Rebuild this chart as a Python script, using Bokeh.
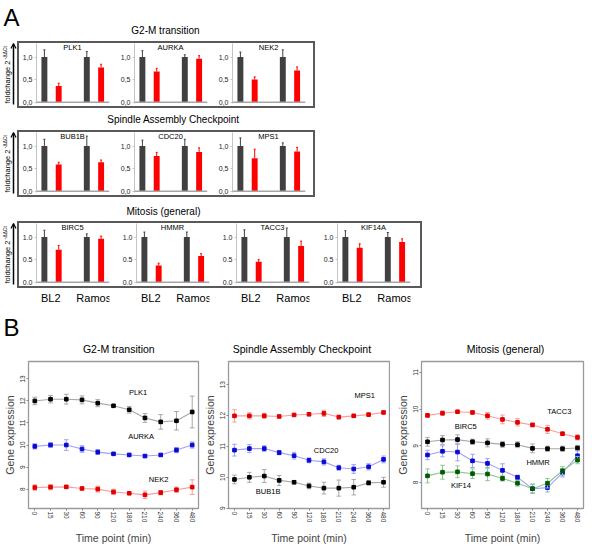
import math
from bokeh.plotting import figure
from bokeh.layouts import row, column
from bokeh.models import (Range1d, Span, FixedTicker, CustomJSTickFormatter,
                          PrintfTickFormatter, Arrow, OpenHead, Spacer)
from bokeh.embed import file_html
from bokeh.resources import INLINE
from bokeh.core.properties import value

# ---------------- Panel A data ----------------
cell_lines = ["BL2", "Ramos"]
conditions = ["control", "knockdown"]
titles_A = ["G2-M transition", "Spindle Assembly Checkpoint", "Mitosis (general)"]
genes_A1 = ["PLK1", "AURKA", "NEK2"]
genes_A2 = ["BUB1B", "CDC20", "MPS1"]
genes_A3 = ["BIRC5", "HMMR", "TACC3", "KIF14A"]
# fold change 2^-ddCt: BL2 control, BL2 knockdown, Ramos control, Ramos knockdown
fc_PLK1 = [1.0, 0.36, 1.0, 0.77]
err_PLK1 = [0.16, 0.06, 0.12, 0.07]
fc_AURKA = [1.0, 0.68, 1.0, 0.96]
err_AURKA = [0.14, 0.07, 0.05, 0.07]
fc_NEK2 = [1.0, 0.50, 1.0, 0.70]
err_NEK2 = [0.11, 0.06, 0.16, 0.08]
fc_BUB1B = [1.0, 0.59, 1.0, 0.64]
err_BUB1B = [0.15, 0.05, 0.22, 0.05]
fc_CDC20 = [1.0, 0.78, 1.0, 0.87]
err_CDC20 = [0.13, 0.08, 0.15, 0.09]
fc_MPS1 = [1.0, 0.73, 1.0, 0.88]
err_MPS1 = [0.18, 0.20, 0.07, 0.09]
fc_BIRC5 = [1.0, 0.72, 1.0, 0.96]
err_BIRC5 = [0.15, 0.09, 0.07, 0.06]
fc_HMMR = [1.0, 0.37, 1.0, 0.58]
err_HMMR = [0.11, 0.05, 0.11, 0.05]
fc_TACC3 = [1.0, 0.45, 1.0, 0.80]
err_TACC3 = [0.16, 0.05, 0.20, 0.11]
fc_KIF14A = [1.0, 0.76, 1.0, 0.89]
err_KIF14A = [0.14, 0.09, 0.10, 0.07]

# ---------------- Panel B data ----------------
time_points = ["0", "15", "30", "60", "90", "120", "180", "210", "240", "360", "480"]
titles_B = ["G2-M transition", "Spindle Assembly Checkpoint", "Mitosis (general)"]
expr_PLK1 = [12.0, 12.08, 12.08, 12.05, 11.9, 11.78, 11.6, 11.23, 11.05, 11.1, 11.5]
sd_PLK1 = [0.17, 0.17, 0.22, 0.18, 0.16, 0.05, 0.15, 0.2, 0.33, 0.42, 0.72]
expr_AURKA = [9.94, 10.0, 10.0, 9.82, 9.68, 9.6, 9.55, 9.5, 9.55, 9.77, 10.0]
sd_AURKA = [0.12, 0.1, 0.24, 0.15, 0.11, 0.05, 0.07, 0.07, 0.05, 0.12, 0.14]
expr_NEK2 = [8.07, 8.09, 8.1, 8.03, 8.0, 7.87, 7.81, 7.74, 7.84, 7.97, 8.09]
sd_NEK2 = [0.12, 0.12, 0.07, 0.05, 0.13, 0.12, 0.05, 0.17, 0.1, 0.12, 0.33]
expr_MPS1 = [11.99, 11.99, 11.99, 11.97, 12.02, 12.04, 12.07, 11.95, 11.99, 12.03, 12.1]
sd_MPS1 = [0.2, 0.1, 0.08, 0.03, 0.04, 0.04, 0.1, 0.06, 0.05, 0.04, 0.04]
expr_CDC20 = [10.88, 10.93, 10.93, 10.8, 10.7, 10.55, 10.5, 10.31, 10.27, 10.34, 10.58]
sd_CDC20 = [0.19, 0.13, 0.09, 0.07, 0.11, 0.08, 0.1, 0.08, 0.14, 0.1, 0.11]
expr_BUB1B = [9.93, 10.0, 10.04, 9.9, 9.84, 9.72, 9.65, 9.65, 9.68, 9.82, 9.84]
sd_BUB1B = [0.14, 0.16, 0.21, 0.16, 0.05, 0.09, 0.19, 0.26, 0.25, 0.07, 0.16]
expr_TACC3 = [9.83, 9.89, 9.93, 9.91, 9.82, 9.72, 9.64, 9.57, 9.45, 9.33, 9.23]
sd_TACC3 = [0.04, 0.06, 0.04, 0.04, 0.09, 0.12, 0.1, 0.05, 0.11, 0.05, 0.07]
expr_BIRC5 = [9.11, 9.16, 9.17, 9.11, 9.08, 9.04, 9.03, 8.93, 8.92, 8.92, 8.94]
sd_BIRC5 = [0.12, 0.12, 0.13, 0.07, 0.11, 0.08, 0.08, 0.12, 0.07, 0.07, 0.07]
expr_HMMR = [8.75, 8.85, 8.83, 8.59, 8.52, 8.33, 8.14, 7.83, 7.86, 8.26, 8.73]
sd_HMMR = [0.13, 0.15, 0.24, 0.18, 0.13, 0.18, 0.06, 0.11, 0.12, 0.11, 0.13]
expr_KIF14 = [8.18, 8.28, 8.29, 8.24, 8.23, 8.11, 7.98, 7.83, 7.98, 8.32, 8.61]
sd_KIF14 = [0.19, 0.19, 0.16, 0.13, 0.18, 0.07, 0.08, 0.13, 0.13, 0.11, 0.1]

FC = {"PLK1": fc_PLK1, "AURKA": fc_AURKA, "NEK2": fc_NEK2, "BUB1B": fc_BUB1B,
      "CDC20": fc_CDC20, "MPS1": fc_MPS1, "BIRC5": fc_BIRC5, "HMMR": fc_HMMR,
      "TACC3": fc_TACC3, "KIF14A": fc_KIF14A}
ERR = {"PLK1": err_PLK1, "AURKA": err_AURKA, "NEK2": err_NEK2, "BUB1B": err_BUB1B,
       "CDC20": err_CDC20, "MPS1": err_MPS1, "BIRC5": err_BIRC5, "HMMR": err_HMMR,
       "TACC3": err_TACC3, "KIF14A": err_KIF14A}

# ---------------- styling / layout ----------------
FONT = "Liberation Sans"
DARK = "#404040"
RED = "#ff0000"
EDGE = "#595959"


def no_grid(p):
    for g in p.grid:
        g.visible = False
    return p


def canvas(w, h):
    p = figure(width=w, height=h, x_range=Range1d(0, w), y_range=Range1d(h, 0),
               output_backend="svg", toolbar_location=None, min_border=0,
               x_axis_location=None, y_axis_location=None, outline_line_color=None)
    return no_grid(p)


def edge(w, h):
    return Spacer(width=w, height=h, styles={"background-color": EDGE})


def label(p, x, y, txt, size, align="left", angle=0.0, color="#000000"):
    p.text(x=[x], y=[y], text=[txt], text_font=value(FONT), text_font_size=f"{size}px",
           text_align=align, text_baseline="middle", angle=angle, text_color=color)


def ylab_strip(h):
    p = canvas(17, h)
    label(p, 7.0, h - 5, "foldchange 2", 7.5, "left", math.pi / 2)
    label(p, 4.5, h - 5 - 44, "-ΔΔCt", 5, "left", math.pi / 2)
    p.add_layout(Arrow(end=OpenHead(size=5, line_width=1.2, line_color="black"),
                       x_start=13, y_start=h - 4, x_end=13, y_end=2,
                       line_width=1.5, line_color="black"))
    return p


def bar_row(genes, widths, comma):
    subs, strips = [], []
    xs = [0.8 + gi * 4.3 + ci * 1.45 for gi in range(len(cell_lines)) for ci in range(len(conditions))]
    cols = [DARK if ci == 0 else RED for gi in range(len(cell_lines)) for ci in range(len(conditions))]
    centers = [0.8 + gi * 4.3 + 0.725 for gi in range(len(cell_lines))]
    for gene, w in zip(genes, widths):
        fc, er = FC[gene], ERR[gene]
        xr = Range1d(0, 7.4)
        p = figure(width=w, height=63, x_range=xr, y_range=Range1d(-0.03, 1.30),
                   output_backend="svg", toolbar_location=None, x_axis_location=None,
                   min_border_left=16, min_border_right=w - 90, min_border_top=0,
                   min_border_bottom=3, outline_line_color=None)
        no_grid(p)
        p.vbar(x=xs, top=fc, bottom=0, width=0.6, fill_color=cols, line_color=None)
        hi = [f + e for f, e in zip(fc, er)]
        p.segment(x0=xs, y0=fc, x1=xs, y1=hi, line_color=cols, line_width=1)
        p.segment(x0=[x - 0.1 for x in xs], y0=hi, x1=[x + 0.1 for x in xs], y1=hi,
                  line_color=cols, line_width=1)
        p.add_layout(Span(location=0, dimension="width", line_color="#a6a6a6", line_width=1.5))
        label(p, 3.65, 1.21, gene, 7.5, "center")
        ax = p.yaxis[0]
        ax.ticker = FixedTicker(ticks=[0, 0.5, 1.0])
        if comma:
            ax.formatter = CustomJSTickFormatter(code="return tick.toFixed(1).replace('.', ',');")
        else:
            ax.formatter = PrintfTickFormatter(format="%.1f")
        ax.axis_line_color = "#c4c4c4"
        ax.major_tick_line_color = "#c4c4c4"
        ax.major_tick_out = 2
        ax.major_tick_in = 0
        ax.minor_tick_line_color = None
        ax.major_label_text_font = FONT
        ax.major_label_text_font_size = "7px"
        ax.major_label_text_color = "#222222"
        ax.major_label_standoff = 2
        subs.append(p)

        s = figure(width=w, height=18, x_range=xr, y_range=Range1d(18, 0),
                   output_backend="svg", toolbar_location=None, x_axis_location=None,
                   y_axis_location=None, min_border_left=16, min_border_right=w - 90,
                   min_border_top=0, min_border_bottom=0, outline_line_color=None)
        no_grid(s)
        s.text(x=centers, y=[9.4] * len(centers), text=cell_lines, text_font=value(FONT),
               text_font_size="11px", text_align="center", text_baseline="middle")
        strips.append(s)
    W = sum(widths)
    box = column(edge(W + 4, 2), row(edge(2, 63), *subs, edge(2, 63)), edge(W + 4, 2))
    return box, strips


def line_fig(w, bl, br, yr, yticks, series, labs):
    xs = list(range(1, len(time_points) + 1))
    p = figure(width=w, height=189, x_range=Range1d(0.6, 11.4), y_range=Range1d(*yr),
               output_backend="svg", toolbar_location=None,
               min_border_left=bl, min_border_right=br, min_border_top=3, min_border_bottom=34)
    no_grid(p)
    p.outline_line_color = "#9a9a9a"
    p.outline_line_width = 1.3
    for expr, sd, mcol, lcol in series:
        lo = [e - s for e, s in zip(expr, sd)]
        hi = [e + s for e, s in zip(expr, sd)]
        p.segment(x0=xs, y0=lo, x1=xs, y1=hi, line_color=lcol, line_width=1)
        for yy in (lo, hi):
            p.segment(x0=[x - 0.15 for x in xs], y0=yy, x1=[x + 0.15 for x in xs], y1=yy,
                      line_color=lcol, line_width=1)
        p.line(xs, expr, line_color=lcol, line_width=1.1)
        p.scatter(xs, expr, marker="square", size=3.6, color=mcol)
    for name, lx, ly in labs:
        label(p, lx, ly, name, 7.5, "center")
    xa = p.xaxis[0]
    xa.ticker = FixedTicker(ticks=xs)
    xa.major_label_overrides = {x: t for x, t in zip(xs, time_points)}
    xa.major_label_orientation = "vertical"
    xa.axis_label = "Time point (min)"
    xa.axis_label_standoff = 7
    ya = p.yaxis[0]
    ya.ticker = FixedTicker(ticks=yticks)
    ya.major_label_orientation = "vertical"
    ya.axis_label = "Gene expression"
    ya.axis_label_standoff = 2
    for a in (xa, ya):
        a.axis_line_color = None
        a.major_tick_line_color = "#888888"
        a.major_tick_out = 2
        a.major_tick_in = 0
        a.minor_tick_line_color = None
        a.major_label_text_font = FONT
        a.major_label_text_font_size = "6.5px"
        a.major_label_text_color = "#333333"
        a.major_label_standoff = 1
        a.axis_label_text_font = FONT
        a.axis_label_text_font_size = "10.5px"
        a.axis_label_text_font_style = "normal"
    return p


# ---- Panel A ----
hdr1 = canvas(340, 39)
label(hdr1, 3, 14.7, "A", 24)
label(hdr1, 165, 27.7, titles_A[0], 10, "center")
hdr2 = canvas(340, 22)
label(hdr2, 173, 10.8, titles_A[1], 10, "center")
hdr3 = canvas(340, 24)
label(hdr3, 163, 14.0, titles_A[2], 10, "center")

box1, _ = bar_row(genes_A1, [98, 98, 98], True)
box2, _ = bar_row(genes_A2, [98, 98, 98], True)
box3, strips3 = bar_row(genes_A3, [100, 100, 101, 100], False)
cat_row = row(Spacer(width=19, height=18), *strips3)

# ---- Panel B ----
hdrB = canvas(586, 52)
label(hdrB, 3, 20.5, "B", 24)
for t, cx in zip(titles_B, [118.3, 301.7, 505.0]):
    label(hdrB, cx, 42.0, t, 10.5, "center")

BLACK, GRAY = "#000000", "#a8a8a8"
BLUE, LBLUE = "#0a0ad2", "#a0a0ff"
RED_M, PINK = "#e00000", "#ff9a9a"
GREEN, LGREEN = "#005a00", "#8cc88c"

f1 = line_fig(200, 25, 2, (7.12, 13.79), [8, 9, 10, 11, 12, 13],
              [(expr_PLK1, sd_PLK1, BLACK, GRAY), (expr_AURKA, sd_AURKA, BLUE, LBLUE),
               (expr_NEK2, sd_NEK2, RED_M, PINK)],
              [("PLK1", 7.56, 12.39), ("AURKA", 7.75, 10.37), ("NEK2", 8.86, 8.44)])
f2 = line_fig(190, 26, 1, (8.99, 13.75), [9, 10, 11, 12, 13],
              [(expr_MPS1, sd_MPS1, RED_M, PINK), (expr_CDC20, sd_CDC20, BLUE, LBLUE),
               (expr_BUB1B, sd_BUB1B, BLACK, GRAY)],
              [("MPS1", 9.73, 12.64), ("CDC20", 7.15, 10.88), ("BUB1B", 3.26, 9.53)])
f3 = line_fig(196, 31, 3, (7.29, 11.3), [8, 9, 10, 11],
              [(expr_TACC3, sd_TACC3, RED_M, PINK), (expr_BIRC5, sd_BIRC5, BLACK, GRAY),
               (expr_HMMR, sd_HMMR, BLUE, LBLUE), (expr_KIF14, sd_KIF14, GREEN, LGREEN)],
              [("TACC3", 9.79, 9.93), ("BIRC5", 3.55, 9.54), ("HMMR", 8.37, 8.55),
               ("KIF14", 3.23, 7.92)])

root = column(
    hdr1,
    row(ylab_strip(67), box1),
    hdr2,
    row(ylab_strip(67), box2),
    hdr3,
    row(ylab_strip(67), box3),
    cat_row,
    hdrB,
    row(f1, f2, f3),
    styles={"margin-top": "2px"},
)

open("out.html", "w").write(file_html(root, INLINE))
